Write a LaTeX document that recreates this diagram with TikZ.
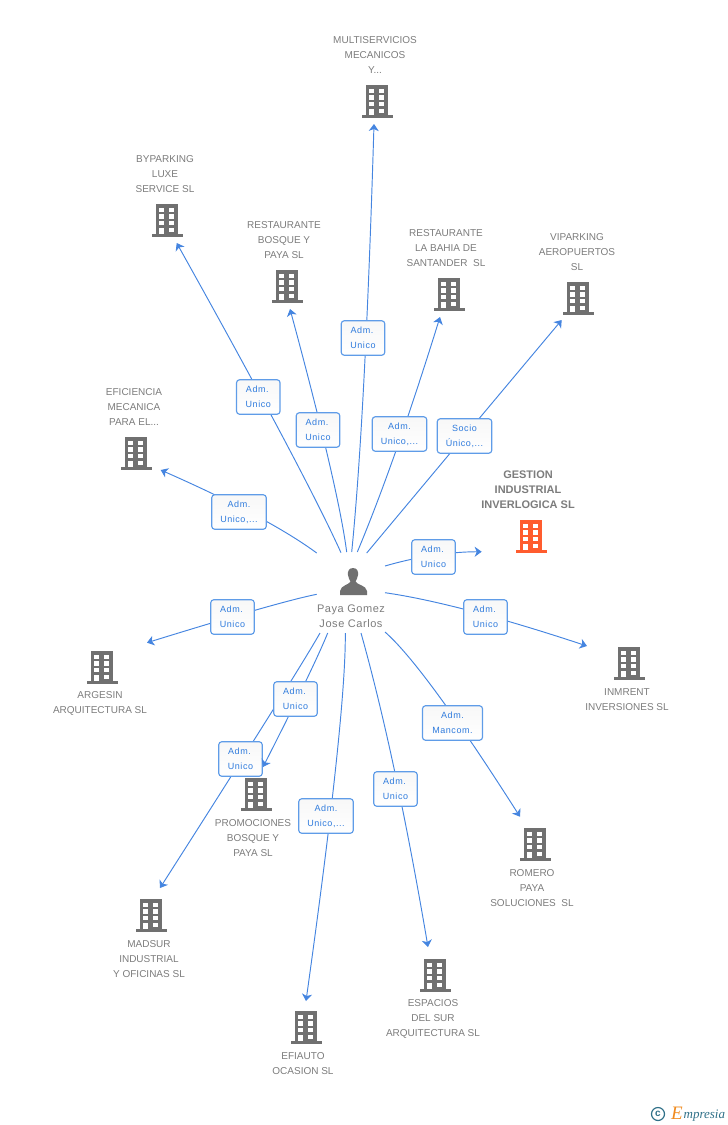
\documentclass[tikz,border=0pt]{standalone}
\usepackage{fontspec}
\setmainfont{Liberation Sans}
\newfontfamily\logofont{Liberation Serif}
\usetikzlibrary{arrows.meta,calc}
\definecolor{linkblue}{HTML}{4585E0}
\definecolor{boxblue}{HTML}{5F9CE8}
\definecolor{labelblue}{HTML}{2F7BDD}
\definecolor{txtgrey}{HTML}{7C7C7C}
\definecolor{bldgrey}{HTML}{707070}
\definecolor{bldorange}{HTML}{FF5C2E}
\definecolor{logoteal}{HTML}{2F7088}
\definecolor{logoorange}{HTML}{F08A1E}
% quadratic curve from named end #1 via control point #2 to named end #3
\newcommand\linkcurve[3]{\draw[conn] (#1) .. controls ($(#1)!0.667!(#2)$) and ($(#3)!0.667!(#2)$) .. (#3);}
\tikzset{
  conn/.style={draw=linkblue,line width=0.95pt,-{Stealth[length=7pt,width=10pt,inset=2pt]}},
  rel/.style={rectangle,rounded corners=3pt,draw=boxblue,line width=1.15pt,top color=white!97!black,bottom color=white,
    minimum height=34.5pt,inner sep=0pt,align=center,text=labelblue,
    font=\fontsize{9}{15}\selectfont\addfontfeature{LetterSpace=6}},
  relA/.style={rel,minimum width=43.5pt},
  relB/.style={rel,minimum width=54.5pt},
  relC/.style={rel,minimum width=60pt},
  co/.style={inner sep=0pt,align=center,text=txtgrey,font=\fontsize{10}{15}\selectfont},
  pics/bldg/.style={code={
    \fill[#1] (-11,-33.5) rectangle (11.3,-2.7);
    \fill[#1] (-15.5,-2.7) rectangle (15.7,0);
    \fill[white] (-7.7,-29.4) rectangle (-2.7,-24.8);
    \fill[white] (2.3,-29.4) rectangle (7.3,-24.8);
    \fill[white] (-7.7,-22.7) rectangle (-2.7,-18.4);
    \fill[white] (2.3,-22.7) rectangle (7.3,-18.4);
    \fill[white] (-7.7,-16) rectangle (-2.7,-12);
    \fill[white] (2.3,-16) rectangle (7.3,-12);
    \fill[white] (-7.7,-9.4) rectangle (-2.7,-2.7);
    \fill[white] (2.3,-9.4) rectangle (7.3,-5);
  }}
}
\begin{document}
\begin{tikzpicture}[x=1pt,y=-1pt]
\useasboundingbox (0,0) rectangle (728,1125);

% buildings
\path (377,118) pic {bldg=bldgrey};
\path (167,237) pic {bldg=bldgrey};
\path (287,303) pic {bldg=bldgrey};
\path (449,311) pic {bldg=bldgrey};
\path (578,315) pic {bldg=bldgrey};
\path (136,470) pic {bldg=bldgrey};
\path (531,553) pic {bldg=bldorange};
\path (629,680) pic {bldg=bldgrey};
\path (102,684) pic {bldg=bldgrey};
\path (256,811) pic {bldg=bldgrey};
\path (535,861) pic {bldg=bldgrey};
\path (151,932) pic {bldg=bldgrey};
\path (435,992) pic {bldg=bldgrey};
\path (306,1044) pic {bldg=bldgrey};

% company names
\node[co] (multi) at (375,55) {MULTISERVICIOS\\MECANICOS\\Y...};
\node[co] (bypark) at (165,174) {BYPARKING\\LUXE\\SERVICE SL};
\node[co] (bosque) at (284,240) {RESTAURANTE\\BOSQUE Y\\PAYA SL};
\node[co] (bahia) at (446,248) {RESTAURANTE\\LA BAHIA DE\\SANTANDER\ \ SL};
\node[co] (vipark) at (577,252) {VIPARKING\\AEROPUERTOS\\SL};
\node[co] (efic) at (134,407) {EFICIENCIA\\MECANICA\\PARA EL...};
\node[co,font=\fontsize{11}{15}\selectfont\bfseries] (gestion) at (528,490) {GESTION\\INDUSTRIAL\\INVERLOGICA SL};
\node[co] (inmrent) at (627,699.5) {INMRENT\\INVERSIONES SL};
\node[co] (argesin) at (100,703.5) {ARGESIN\\ARQUITECTURA SL};
\node[co] (promo) at (253,838) {PROMOCIONES\\BOSQUE Y\\PAYA SL};
\node[co] (romero) at (532,888) {ROMERO\\PAYA\\SOLUCIONES\ \ SL};
\node[co] (madsur) at (149,959) {MADSUR\\INDUSTRIAL\\Y OFICINAS SL};
\node[co] (espacios) at (433,1019) {ESPACIOS\\DEL SUR\\ARQUITECTURA SL};
\node[co] (efiauto) at (303,1063.5) {EFIAUTO\\OCASION SL};

% person
\fill[bldgrey] (353,568) .. controls (348.5,568) and (347.5,572) .. (348,575)
  .. controls (348.5,578) and (349.5,580) .. (350.5,581.5)
  .. controls (349,585) and (341,585) .. (340,591) -- (340,595) -- (367,595) -- (367,591)
  .. controls (366,585) and (357,585) .. (355.5,581.5)
  .. controls (356.5,580) and (357.5,578) .. (358,575)
  .. controls (358.5,572) and (357.5,568) .. (353,568) -- cycle;
\node[co,font=\fontsize{11}{15}\selectfont\addfontfeature{LetterSpace=5}] (person) at (351,616) {Paya Gomez\\Jose Carlos};

% connector ends and control points
\foreach \n/\p in {s1/{351.7,552},s2/{341,552.7},s3/{346.7,552},s4/{357.3,552},s5/{366.7,553},s6/{316.7,553},s7/{385,566},
  s8/{385,592.7},s9/{316.7,594.3},s10/{327.7,633},s11/{320,633},s12/{345.3,633},s13/{361,633},s14/{385,632},
  t1/{374,124},t2/{176.7,243},t3/{290,309},t4/{440,317},t5/{561.7,320},t6/{160.7,470},t7/{481.7,551.7},
  t8/{587,646},t9/{147,642.7},t10/{263,767},t11/{160,888},t12/{306,1001},t13/{428,947},t14/{520,816.7},
  c1/{365.2,417},c2/{304,471},c3/{338.4,488},c4/{395,462},c5/{464,436.5},c6/{269,517.7},c7/{433,552},
  c8/{457,603},c9/{279,601.8},c10/{314.4,666},c11/{298,672},c12/{346,715},c13/{395.5,756},c14/{424,666}}
  {\coordinate (\n) at (\p);}

% connectors and their labels
\linkcurve{s1}{c1}{t1}
\linkcurve{s2}{c2}{t2}
\linkcurve{s3}{c3}{t3}
\linkcurve{s4}{c4}{t4}
\linkcurve{s5}{c5}{t5}
\linkcurve{s6}{c6}{t6}
\linkcurve{s7}{c7}{t7}
\linkcurve{s8}{c8}{t8}
\linkcurve{s9}{c9}{t9}
\linkcurve{s11}{c11}{t11}
\linkcurve{s12}{c12}{t12}
\linkcurve{s13}{c13}{t13}
\linkcurve{s14}{c14}{t14}

\node[relA] (l1) at (363,338) {Adm.\kern2pt\\Unico};
\node[relA] (l2) at (258.3,397) {Adm.\kern2pt\\Unico};
\node[relA] (l3) at (318,430) {Adm.\kern2pt\\Unico};
\node[relB] (l4) at (399.5,434) {Adm.\\Unico,...};
\node[relB] (l5) at (464.5,436) {Socio\\Único,...};
\node[relB] (l6) at (239,512) {Adm.\\Unico,...};
\node[relA] (l7) at (433.5,557) {Adm.\kern2pt\\Unico};
\node[relA] (l8) at (485.5,617) {Adm.\kern2pt\\Unico};
\node[relA] (l9) at (232.5,617) {Adm.\kern2pt\\Unico};
\node[relA] (l11) at (240.5,759) {Adm.\kern2pt\\Unico};
\linkcurve{s10}{c10}{t10}
\node[relA] (l10) at (295.5,699) {Adm.\kern2pt\\Unico};
\node[relB] (l12) at (326,816) {Adm.\\Unico,...};
\node[relA] (l13) at (395.5,789) {Adm.\kern2pt\\Unico};
\node[relC] (l14) at (452.5,723) {Adm.\\Mancom.};

% logo
\node[circle,draw=logoteal,line width=1.2pt,minimum size=13pt,inner sep=0pt,text=logoteal,font=\fontsize{10}{10}\selectfont\bfseries] (copy) at (658,1114) {c};
\node[inner sep=0pt,anchor=base west,text=logoorange,font=\logofont\itshape\fontsize{19}{19}\selectfont] (logoE) at (671,1119) {E};
\node[inner sep=0pt,anchor=base west,text=logoteal,font=\logofont\itshape\fontsize{13}{13}\selectfont] (logoT) at (683.5,1118) {mpresia};
\end{tikzpicture}
\end{document}
